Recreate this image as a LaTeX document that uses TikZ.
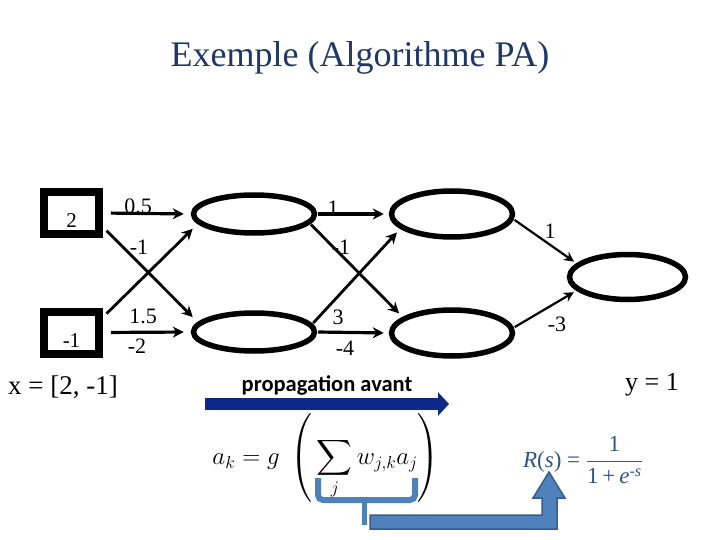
\RequirePackage{fix-cm}
\documentclass[tikz,border=0pt]{standalone}
\usepackage{amsmath}
\usepackage[no-math]{fontspec}
\setmainfont{Liberation Serif}
\newfontfamily\calibri{Carlito}
\usetikzlibrary{positioning,arrows.meta,shapes.geometric}

\definecolor{titleblue}{RGB}{31,56,100}
\definecolor{navy}{RGB}{14,40,135}
\definecolor{steel}{RGB}{79,129,189}
\definecolor{steeldark}{RGB}{56,93,138}
\definecolor{rblue}{RGB}{47,84,140}

\begin{document}
\begin{tikzpicture}[
  x=1pt,y=-1pt,
  inbox/.style={rectangle,draw=black,line width=8pt,minimum width=55pt,minimum height=42pt,
                inner sep=0pt,font=\fontsize{21}{24}\selectfont},
  neuron/.style={ellipse,draw=black,line width=5.5pt,minimum width=121pt,minimum height=38pt,inner sep=0pt},
  arr/.style={-{Stealth[length=11pt,width=11pt]},line width=2.8pt,shorten >=7pt,shorten <=8pt},
  arrb/.style={arr,shorten <=1pt,shorten >=5pt},
  arrc/.style={-{Stealth[length=10pt,width=10pt]},line width=2.2pt,shorten >=3pt,shorten <=1pt},
  wlab/.style={font=\fontsize{22}{24}\selectfont,inner sep=0pt},
  fwd/.style={draw=navy,line width=12pt,-{Triangle[length=11pt,width=23pt]}},
  brace/.style={draw=steel,line width=6pt,rounded corners=5pt},
]
\useasboundingbox (0,0) rectangle (720,540);

% ---------- title ----------
\node[font=\fontsize{36}{42}\selectfont,text=titleblue] (title) at (360,58) {Exemple (Algorithme PA)};

% ---------- network ----------
\node[inbox] (x1) at (71.5,213) {\raisebox{-15pt}[0pt][0pt]{2}};
\node[inbox] (x2) at (71.5,332.5) {\raisebox{-15pt}[0pt][0pt]{-1}};
\node[neuron] (h1) at (254,214) {};
\node[neuron] (h2) at (254,332) {};
\node[neuron,minimum height=46pt] (h3) at (452,214) {};
\node[neuron,minimum height=46pt] (h4) at (452,333) {};
\node[neuron,minimum width=116pt,minimum height=45pt] (out) at (627.5,277) {};

\draw[arr,line width=3.2pt] (x1.east) -- (h1.west);
\draw[arr,shorten <=5pt] (x1.-24) -- (h2.170);
\draw[arr,shorten <=5pt] (x2.26) -- (h1.190);
\draw[arr,line width=3.2pt] (x2.east) -- (h2.west);

\draw[arrb,line width=3.2pt] (h1.east) -- (h3.west);
\draw[arrb] (h1.-10) -- (h4.162);
\draw[arrb] (h2.8) -- (h3.196);
\draw[arrb,line width=3.2pt] (h2.east) -- (h4.west);

\draw[arrc] (h3.-5) -- (out.165);
\draw[arrc] (h4.5) -- (out.195);

% weights
\foreach \n/\x/\y/\t in {1/138/206/0.5, 2/139/247/-1, 3/143/316/1.5, 4/137/346/-2,
                          5/333/208/1, 6/341/247/-1, 7/338/317/3, 8/345/348/-4,
                          9/550/231/1, 10/557/324/-3}
  \node[wlab] (w\n) at (\x,\y) {\t};

\node[font=\fontsize{27}{30}\selectfont] (xin) at (63,387) {x = [2, -1]};
\node[font=\fontsize{26}{28}\selectfont] (yout) at (652,385) {y = 1};

% ---------- forward pass ----------
\node[font=\calibri\bfseries\fontsize{22.5}{26}\selectfont] (pa) at (327,385) {propagation avant};
\coordinate (fw0) at (205,404);
\coordinate (fw1) at (449,404);
\draw[fwd] (fw0) -- (fw1);

\node[font=\fontsize{25}{30}\selectfont] (ak) at (326,458)
  {$\displaystyle a_k = g\;\left(\vcenter{\hbox{\rule{0pt}{92pt}}}\sum_j w_{j,k}a_j\right)$};
\node[font=\fontsize{23}{27}\selectfont,text=rblue] (rs) at (583,460)
  {\textit{R}(\textit{s}) = $\dfrac{\text{1}}{\text{1\,+\,}\textit{e}^{\text{-}\textit{s}}}$};

\draw[brace] (318,478) -- (318,500) -- (415,500) -- (415,478);
\draw[draw=steel,line width=5pt] (364,500) -- (364,525);
\filldraw[fill=steel,draw=steeldark,line width=1.5pt]
  (370,515) -- (542,515) -- (542,498) -- (533,498) -- (549,472) -- (565,498)
  -- (557,498) -- (557,529) -- (370,529) -- cycle;
\end{tikzpicture}
\end{document}
